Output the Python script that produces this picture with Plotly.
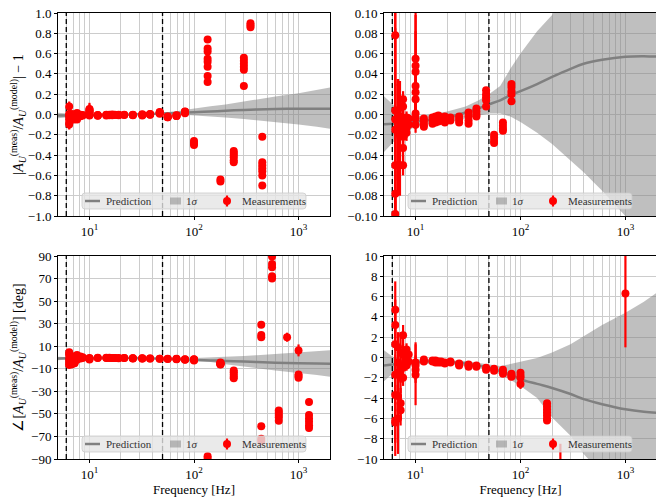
#!/usr/bin/env python3
"""Actuation residuals vs frequency: measurements against model prediction."""

import math

import plotly.graph_objects as go
from plotly.subplots import make_subplots

# --- prediction ---
PRED_FREQ = [5, 6, 7, 8, 10, 12, 15, 20, 30, 40, 50, 64, 80, 100, 144, 200, 300, 400, 600, 1000, 1500, 2000]
MAG_PRED = [-0.0095, -0.009, -0.0085, -0.008, -0.007, -0.006, -0.0045, -0.0025, 0.002, 0.006, 0.010,
            0.014, 0.019, 0.023, 0.030, 0.037, 0.045, 0.050, 0.054, 0.057, 0.0575, 0.057]
MAG_UPPER = [0.018, 0.010, 0.004, 0.0, -0.002, -0.001, 0.0005, 0.003, 0.008, 0.014, 0.020,
             0.028, 0.045, 0.060, 0.082, 0.098, 0.130, 0.152, 0.178, 0.210, 0.240, 0.265]
MAG_LOWER = [-0.037, -0.028, -0.021, -0.017, -0.012, -0.010, -0.009, -0.008, -0.004, -0.001, 0.001,
             0.001, -0.002, -0.0074, -0.018, -0.029, -0.045, -0.057, -0.075, -0.099, -0.120, -0.140]
PHA_PRED = [-0.78, -0.68, -0.6, -0.55, -0.45, -0.4, -0.4, -0.45, -0.6, -0.8, -1.0,
            -1.33, -1.7, -2.15, -2.6, -3.0, -3.6, -4.1, -4.6, -5.1, -5.35, -5.45]
PHA_UPPER = [0.71, 0.1, -0.2, -0.3, -0.2, -0.15, -0.2, -0.25, -0.35, -0.55, -0.7,
             -0.84, -0.65, -0.44, -0.05, 0.5, 1.3, 2.1, 3.2, 4.4, 5.5, 6.4]
PHA_LOWER = [-2.35, -1.6, -1.1, -0.9, -0.7, -0.65, -0.6, -0.65, -0.85, -1.05, -1.3,
             -1.66, -2.2, -2.8, -4.0, -5.9, -7.7, -9.5, -11.5, -13.5, -15.5, -17.0]

# --- magnitude measurements ---
MAG_FREQ = [
    6.4, 6.4, 6.4, 6.4, 6.4, 6.4, 6.4,
    6.8, 6.8, 6.8, 6.8,
    7.1, 7.1, 7.1, 7.1,
    7.6, 7.6, 7.6, 7.6, 7.6, 7.6, 7.6,
    8.2, 8.2, 8.2, 8.2,
    8.6, 8.6,
    10, 10, 10, 10, 10, 10, 10, 10, 10,
    12, 12, 12, 12,
    14.5, 14.5, 14.5, 15.5, 15.5, 15.5, 16.5, 16.5, 16.5, 17.5, 17.5,
    19, 19, 19, 21.5, 21.5, 26, 26, 26,
    32, 32, 32, 32, 38, 38, 38, 38,
    47, 47, 47, 47, 47,
    56, 56, 56, 56, 68, 68, 68, 68,
    82, 82, 82, 82, 82,
    100, 100, 100,
    135, 135, 135, 135, 135, 135, 135, 135,
    179, 179,
    240, 240, 240, 240, 240, 240,
    300, 300, 300, 300, 300, 300,
    347, 347, 347,
    450, 450, 450, 450, 450, 450, 450,
]
MAG_VAL = [
    0.078, 0.004, -0.005, -0.015, -0.050, -0.078, -0.098,
    0.004, -0.005, -0.015, -0.050,
    -0.002, -0.012, -0.020, -0.050,
    0.015, 0.008, -0.005, -0.012, -0.022, -0.033, -0.050,
    -0.003, -0.008, -0.013, -0.018,
    -0.004, -0.010,
    0.055, 0.048, 0.042, 0.028, 0.022, 0.015, 0.001, -0.004, -0.010,
    -0.004, -0.007, -0.010, -0.012,
    -0.003, -0.006, -0.009, -0.002, -0.005, -0.008, -0.001, -0.004, -0.007, -0.003, -0.006,
    -0.002, -0.005, -0.008, -0.003, -0.006, -0.002, -0.005, -0.008,
    0.002, -0.002, -0.006, -0.009, 0.006, 0.003, 0.0, -0.002,
    0.024, 0.020, 0.017, 0.014, 0.008,
    -0.020, -0.023, -0.026, -0.028, -0.008, -0.011, -0.014, -0.016,
    0.030, 0.027, 0.023, 0.020, 0.013,
    -0.26, -0.28, -0.30,
    0.74, 0.65, 0.62, 0.55, 0.52, 0.47, 0.38, 0.32,
    -0.64, -0.66,
    -0.36, -0.38, -0.40, -0.42, -0.45, -0.47,
    0.28, 0.44, 0.47, 0.50, 0.53, 0.56,
    0.86, 0.88, 0.90,
    -0.22, -0.47, -0.50, -0.53, -0.56, -0.60, -0.70,
]
MAG_ERR = [
    0.05, 0.10, 0.09, 0.05, 0.08, 0.06, 0.05,
    0.03, 0.04, 0.05, 0.03,
    0.035, 0.03, 0.04, 0.03,
    0.008, 0.010, 0.015, 0.020, 0.015, 0.015, 0.010,
    0.006, 0.008, 0.010, 0.008,
    0.004, 0.005,
    0.06, 0.05, 0.04, 0.03, 0.02, 0.02, 0.01, 0.01, 0.008,
    0.002, 0.002, 0.002, 0.002,
    0.002, 0.002, 0.002, 0.002, 0.002, 0.002, 0.002, 0.002, 0.002, 0.002, 0.002,
    0.002, 0.002, 0.002, 0.002, 0.002, 0.002, 0.002, 0.002,
    0.002, 0.002, 0.002, 0.002, 0.002, 0.002, 0.002, 0.002,
    0.002, 0.002, 0.002, 0.002, 0.002,
    0.002, 0.002, 0.002, 0.002, 0.002, 0.002, 0.002, 0.002,
    0.002, 0.002, 0.002, 0.002, 0.002,
    0.01, 0.01, 0.01,
    0.01, 0.01, 0.01, 0.01, 0.01, 0.01, 0.01, 0.01,
    0.01, 0.01,
    0.02, 0.02, 0.02, 0.02, 0.02, 0.02,
    0.01, 0.01, 0.01, 0.01, 0.01, 0.01,
    0.01, 0.01, 0.01,
    0.01, 0.01, 0.01, 0.01, 0.01, 0.01, 0.01,
]

# --- phase measurements [deg] ---
PHA_FREQ = [
    6.4, 6.4, 6.4, 6.4, 6.4, 6.4, 6.4,
    6.8, 6.8, 6.8, 6.8, 6.8,
    7.2, 7.2, 7.2, 7.2, 7.2,
    7.6, 7.6, 7.6, 7.6,
    8.2, 8.2, 8.2, 8.2,
    8.6, 8.6,
    10, 10, 10, 10,
    12, 12, 14.5, 14.5, 15.5, 15.5, 16.5, 16.5, 17.5, 17.5, 19, 19, 21.5, 21.5,
    26, 26, 26, 32, 32, 32, 38, 38, 47, 47, 56, 56,
    68, 68, 68, 82, 82, 82,
    100, 100, 100, 100,
    135, 135,
    179, 179, 179, 179, 179, 179, 179,
    240, 240, 240, 240, 240,
    440, 440, 440, 440, 440, 440,
    558, 558, 558, 558, 558,
    647, 647, 647, 647, 647,
    777,
    1000, 1000, 1000, 1000,
    1260, 1260, 1260, 1260, 1260, 1260,
]
PHA_VAL = [
    4.7, 3.2, 1.3, -1.7, -3.7, -6.2, -6.4,
    1.0, -0.5, -1.5, -3.8, -6.0,
    0.5, -1.0, -2.0, -4.5, -5.2,
    2.2, 0.3, -1.0, -2.0,
    0.8, 0.2, -0.3, -0.8,
    0.3, -0.4,
    -0.5, -0.8, -1.2, -1.7,
    -0.2, -0.4, -0.3, -0.4, -0.3, -0.5, -0.4, -0.5, -0.4, -0.5, -0.5, -0.6, -0.4, -0.5,
    -0.6, -0.7, -0.8, -0.7, -0.8, -0.9, -0.8, -0.9, -1.0, -1.2, -1.1, -1.3,
    -1.2, -1.4, -1.6, -1.6, -1.8, -1.9,
    -1.5, -1.8, -2.0, -2.6,
    -87.5, -89.5,
    -4.5, -4.8, -5.1, -5.4, -5.7, -6.0, -6.2,
    -11.5, -13.0, -15.0, -17.0, -18.5,
    29.0, 20.0, 18.0, -61.0, -72.0, -74.0,
    89.5, 83.0, 80.0, 72.0, 70.0,
    -47.0, -49.0, -51.0, -53.0, -56.0,
    18.0,
    6.3, -15.0, -16.5, -18.0,
    -39.5, -51.0, -54.0, -57.0, -60.0, -62.5,
]
PHA_ERR = [
    2.8, 2.5, 3.0, 2.0, 3.0, 3.5, 2.0,
    1.5, 2.0, 2.0, 2.0, 3.5,
    2.0, 1.5, 1.5, 1.5, 1.5,
    1.0, 1.0, 1.0, 0.8,
    0.6, 0.5, 0.5, 0.5,
    0.3, 0.3,
    2.0, 1.0, 1.0, 3.0,
    0.1, 0.1, 0.1, 0.1, 0.1, 0.1, 0.1, 0.1, 0.1, 0.1, 0.1, 0.1, 0.1, 0.1,
    0.1, 0.1, 0.1, 0.1, 0.1, 0.1, 0.1, 0.1, 0.1, 0.1, 0.1, 0.1,
    0.1, 0.1, 0.1, 0.1, 0.1, 0.1,
    0.2, 0.2, 0.2, 0.5,
    1.0, 1.0,
    0.2, 0.2, 0.2, 0.2, 0.2, 0.2, 0.2,
    3.0, 1.0, 1.0, 1.0, 1.0,
    1.5, 1.5, 1.5, 1.5, 2.0, 2.0,
    1.5, 1.5, 1.5, 1.5, 1.5,
    1.5, 1.5, 1.5, 1.5, 1.5,
    4.0,
    5.3, 2.0, 2.0, 2.5,
    3.0, 2.0, 2.0, 2.0, 2.0, 3.0,
]

DASHED_FREQS = [6, 50]
FREQ_RANGE = [5, 2000]
X_TICKVALS = [10, 100, 1000]
X_TICKTEXT = ["10<sup>1</sup>", "10<sup>2</sup>", "10<sup>3</sup>"]
LEGEND_LABELS = ["Prediction", "1<i>σ</i>", "Measurements"]

FONT = "Liberation Serif"
RED = "#ff0000"
GRID = "#cccccc"
PRED_GRAY = "#808080"
BAND_FILL = "rgba(128,128,128,0.5)"

MAG_TITLE = ("|<i>A</i><sub><i>U</i></sub><sup>(meas)</sup>/<i>A</i><sub><i>U</i></sub>"
             "<sup>(model)</sup>| − 1")
PHA_TITLE = ("∠[<i>A</i><sub><i>U</i></sub><sup>(meas)</sup>/<i>A</i><sub><i>U</i></sub>"
             "<sup>(model)</sup>] [deg]")

# (row, col, which, y range, tick0, dtick, tickformat, y title)
PANELS = [
    (1, 1, "mag", [-1.0, 1.0], -1.0, 0.2, ".1f", MAG_TITLE),
    (1, 2, "mag", [-0.1, 0.1], -0.1, 0.02, ".2f", None),
    (2, 1, "pha", [-90, 90], -90, 20, "d", PHA_TITLE),
    (2, 2, "pha", [-10, 10], -10, 2, "d", None),
]

# the page body has an 8px margin, so the figure is drawn 8px in from the corner
W, H = 664, 498
PAD = 8
FW, FH = W - PAD, H - PAD
# panel boxes as seen on the page (left, right, top, bottom)
BOXES = {
    (1, 1): (58, 330, 13, 216),
    (1, 2): (384, 657, 13, 216),
    (2, 1): (58, 330, 256, 459),
    (2, 2): (384, 657, 256, 459),
}


def px(x):
    return (x - PAD) / FW


def py(y):
    return 1 - (y - PAD) / FH


def rounded_box(x0, x1, y0, y1, r=3):
    """SVG path (paper coords) for a box with rounded corners, given page pixels."""
    return (f"M {px(x0 + r)},{py(y0)} L {px(x1 - r)},{py(y0)} "
            f"Q {px(x1)},{py(y0)} {px(x1)},{py(y0 + r)} L {px(x1)},{py(y1 - r)} "
            f"Q {px(x1)},{py(y1)} {px(x1 - r)},{py(y1)} L {px(x0 + r)},{py(y1)} "
            f"Q {px(x0)},{py(y1)} {px(x0)},{py(y1 - r)} L {px(x0)},{py(y0 + r)} "
            f"Q {px(x0)},{py(y0)} {px(x0 + r)},{py(y0)} Z")


def draw_legend(fig, left, bottom):
    """Matplotlib-like legend box inside the bottom of a panel."""
    cy = bottom - 15
    common = dict(xref="paper", yref="paper", layer="above")
    fig.add_shape(type="path", path=rounded_box(left + 24, left + 248, bottom - 23, bottom - 7),
                  fillcolor="rgba(229,229,229,0.8)", line=dict(color="rgba(204,204,204,0.8)", width=1),
                  **common)
    fig.add_shape(type="line", x0=px(left + 27), x1=px(left + 42), y0=py(cy), y1=py(cy),
                  line=dict(color=PRED_GRAY, width=2.5), **common)
    fig.add_shape(type="rect", x0=px(left + 112), x1=px(left + 123), y0=py(cy - 3.5), y1=py(cy + 3.5),
                  fillcolor=BAND_FILL, line=dict(width=0), **common)
    fig.add_shape(type="line", x0=px(left + 169), x1=px(left + 169), y0=py(cy - 5.5), y1=py(cy + 5.5),
                  line=dict(color=RED, width=2.2), **common)
    fig.add_shape(type="circle", x0=px(left + 165), x1=px(left + 173), y0=py(cy - 4), y1=py(cy + 4),
                  fillcolor=RED, line=dict(width=0), **common)
    for label, dx in zip(LEGEND_LABELS, [47, 127, 183]):
        fig.add_annotation(
            x=px(left + dx), y=py(cy), xref="paper", yref="paper", text=label,
            showarrow=False, xanchor="left", yanchor="middle", borderpad=0,
            font=dict(family=FONT, size=11, color="#333333"),
        )


def main():
    fig = make_subplots(rows=2, cols=2)
    minor_vals = [m * 10 ** e for e in range(0, 4) for m in range(2, 10)
                  if FREQ_RANGE[0] <= m * 10 ** e <= FREQ_RANGE[1]]

    for row, col, which, yr, tick0, dtick, fmt, ytitle in PANELS:
        if which == "mag":
            pred, up, lo = MAG_PRED, MAG_UPPER, MAG_LOWER
            fx, fy, fe = MAG_FREQ, MAG_VAL, MAG_ERR
        else:
            pred, up, lo = PHA_PRED, PHA_UPPER, PHA_LOWER
            fx, fy, fe = PHA_FREQ, PHA_VAL, PHA_ERR

        fig.add_trace(go.Scatter(
            x=PRED_FREQ, y=up, mode="lines", line=dict(width=0),
            showlegend=False, hoverinfo="skip",
        ), row=row, col=col)
        fig.add_trace(go.Scatter(
            x=PRED_FREQ, y=lo, mode="lines", line=dict(width=0),
            fill="tonexty", fillcolor=BAND_FILL, name="1σ", showlegend=False,
        ), row=row, col=col)
        fig.add_trace(go.Scatter(
            x=PRED_FREQ, y=pred, mode="lines", name="Prediction", showlegend=False,
            line=dict(color=PRED_GRAY, width=2.5, shape="spline"),
        ), row=row, col=col)
        for f in DASHED_FREQS:
            fig.add_trace(go.Scatter(
                x=[f, f], y=yr, mode="lines", showlegend=False, hoverinfo="skip",
                line=dict(color="black", width=1.3, dash="5px,3px"),
            ), row=row, col=col)
        fig.add_trace(go.Scatter(
            x=fx, y=fy, mode="markers", name="Measurements", showlegend=False,
            marker=dict(color=RED, size=8),
            error_y=dict(type="data", array=fe, color=RED, thickness=2.2, width=0),
        ), row=row, col=col)

        l, r, t, b = BOXES[(row, col)]
        fig.update_xaxes(
            type="log", range=[math.log10(FREQ_RANGE[0]), math.log10(FREQ_RANGE[1])],
            domain=[px(l), px(r)], tickvals=X_TICKVALS, ticktext=X_TICKTEXT,
            showgrid=True, gridcolor=GRID, gridwidth=1,
            minor=dict(tickvals=minor_vals, showgrid=True, gridcolor=GRID, gridwidth=1, ticks=""),
            showline=True, linecolor="black", linewidth=1, mirror=True,
            ticks="outside", ticklen=3, tickcolor="black", zeroline=False,
            tickfont=dict(family=FONT, size=13), ticklabeloverflow="allow",
            title=dict(text="Frequency [Hz]" if row == 2 else None,
                       font=dict(family=FONT, size=13), standoff=2),
            automargin=False,
            row=row, col=col,
        )
        fig.update_yaxes(
            range=yr, domain=[py(b), py(t)], tick0=tick0, dtick=dtick, tickformat=fmt,
            showgrid=True, gridcolor=GRID, gridwidth=1, zeroline=False,
            showline=True, linecolor="black", linewidth=1, mirror=True,
            ticks="outside", ticklen=3, tickcolor="black",
            tickfont=dict(family=FONT, size=13), ticklabeloverflow="allow",
            title=dict(text=ytitle, font=dict(family=FONT, size=14)),
            automargin=False,
            row=row, col=col,
        )
        draw_legend(fig, l, b)

    fig.update_layout(
        width=FW, height=FH,
        margin=dict(l=0, r=0, t=0, b=0),
        paper_bgcolor="white", plot_bgcolor="white",
        font=dict(family=FONT, size=12, color="black"),
        showlegend=False,
    )
    fig.write_html("out.html")


if __name__ == "__main__":
    main()
